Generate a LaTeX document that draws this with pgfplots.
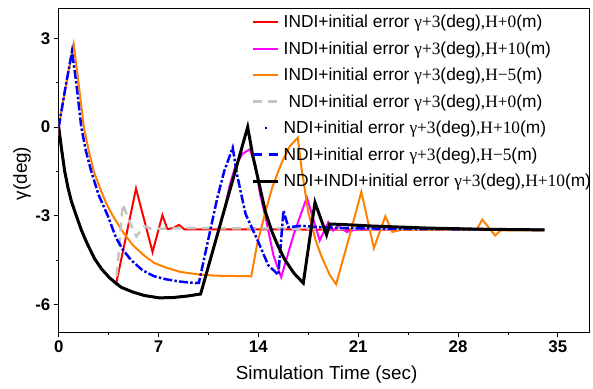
\documentclass[border=0pt]{standalone}
\usepackage{fontspec}
\setmainfont{Liberation Sans}
\newfontfamily\tn{Liberation Serif}
\usepackage{pgfplots}
\pgfplotsset{compat=1.18}
\definecolor{cRed}{RGB}{255,0,0}
\definecolor{cMag}{RGB}{255,0,255}
\definecolor{cOra}{RGB}{255,128,0}
\definecolor{cGray}{RGB}{196,196,196}
\definecolor{cBlue}{RGB}{0,0,255}
\definecolor{cNavy}{RGB}{0,0,200}
\pgfplotsset{myleg/.style={legend image code/.code={\draw[#1] (0bp,0bp) -- (25bp,0bp);}}}
\begin{document}
\begin{tikzpicture}
\begin{axis}[
  scale only axis, width=533bp, height=326bp,
  xmin=0, xmax=37.2, ymin=-6.95, ymax=4.03,
  xtick={0,7,14,21,28,35}, ytick={-6,-3,0,3},
  minor x tick num=1, minor y tick num=1,
  tick align=outside, xtick pos=left, ytick pos=left,
  major tick length=5bp, minor tick length=3bp,
  tick style={black, line width=0.8bp},
  axis line style={line width=0.8bp},
  /pgf/number format/assume math mode=true,
  ticklabel style={font=\bfseries\fontsize{17}{17}\selectfont},
  xlabel={Simulation Time (sec)}, ylabel={γ(deg)},
  every axis x label/.style={at={(axis description cs:0.505,-0.129)}, anchor=center, font=\fontsize{19}{19}\selectfont},
  every axis y label/.style={at={(axis description cs:-0.0694,0.49)}, rotate=90, anchor=center, font=\fontsize{19}{19}\selectfont},
  legend cell align=left,
  legend style={at={(1,1)}, anchor=north east, draw=none, fill=none,
    font=\fontsize{17.5}{17.5}\selectfont, row sep=8.5bp, inner sep=0pt, yshift=-5bp, xshift=4bp,
    /tikz/every odd column/.append style={column sep=2bp}},
  myleg,
]
% INDI H+0
\addplot[color=cRed, line width=2bp] coordinates {
(0,0) (0.2,-0.75) (0.42,-1.5) (0.65,-2.05) (0.88,-2.5) (1.23,-3.0) (1.6,-3.5) (2.0,-3.95) (2.51,-4.45) (3.0,-4.8) (3.56,-5.1) (4.02,-5.32)
(5.42,-2.08) (6.58,-4.23) (7.27,-2.98) (7.62,-3.45) (8.0,-3.42) (8.44,-3.31) (8.8,-3.46) (10,-3.46) (20,-3.47) (34,-3.48)};
\addlegendentry{INDI+initial error {\tn γ+3}(deg){\tn ,H+0}(m)}
% INDI H+10
\addplot[color=cMag, line width=2bp] coordinates {
(0,0) (0.2,-0.75) (0.42,-1.5) (0.65,-2.05) (0.88,-2.5) (1.23,-3.0) (1.6,-3.5) (2.0,-3.95) (2.51,-4.45) (3.0,-4.8) (3.56,-5.1) (4.37,-5.42) (5.18,-5.58) (6.0,-5.7) (7.04,-5.78) (8.0,-5.77) (9.0,-5.72) (9.95,-5.65)
(11.6,-2.83) (12.0,-1.95) (12.4,-1.3) (12.9,-0.9) (13.4,-0.75) (13.8,-1.3) (14.13,-2.3) (14.48,-3.0) (15.06,-4.35) (15.6,-5.08) (16.5,-3.6) (17.4,-2.38) (18.3,-3.84) (18.9,-3.22) (19.25,-3.5) (19.6,-3.36) (20.2,-3.55) (21,-3.45) (34,-3.48)};
\addlegendentry{INDI+initial error {\tn γ+3}(deg){\tn ,H+10}(m)}
% INDI H-5
\addplot[color=cOra, line width=2bp] coordinates {
(0,0) (0.5,1.4) (1.05,2.8) (1.39,1.5) (1.76,0) (2.1,-0.8) (2.46,-1.5) (3.0,-2.2) (3.35,-2.6) (3.79,-3.0) (4.5,-3.55) (5.2,-4.0) (6.0,-4.35) (6.7,-4.6) (7.5,-4.75) (8.5,-4.9) (9.83,-4.99) (11,-5.03) (13.5,-5.05)
(13.9,-4.0) (14.48,-2.89) (15.0,-2.0) (15.64,-1.2) (16.2,-0.65) (16.76,-0.36) (17.04,-1.43) (17.5,-2.89) (18.0,-3.8) (18.4,-4.35) (19.0,-5.0) (19.45,-5.32) (20.35,-3.76) (21.22,-2.19) (22.1,-4.1) (22.9,-3.02) (23.4,-3.55) (24,-3.48) (29.3,-3.48) (29.7,-3.13) (30.6,-3.67) (31.0,-3.5) (34,-3.5)};
\addlegendentry{INDI+initial error {\tn γ+3}(deg){\tn ,H−5}(m)}
% NDI H+0
\addplot[color=cGray, line width=2.5bp, dash pattern=on 9bp off 6bp] coordinates {
(0,0) (0.2,-0.75) (0.42,-1.5) (0.65,-2.05) (0.88,-2.5) (1.23,-3.0) (1.6,-3.5) (2.0,-3.95) (2.51,-4.45) (3.0,-4.8) (3.56,-5.1) (4.02,-5.32)
(4.49,-2.6) (5.0,-3.25) (5.45,-3.7) (6.0,-3.35) (6.5,-3.45) (8,-3.42) (20,-3.44) (34,-3.46)};
\addlegendentry{\ NDI+initial error {\tn γ+3}(deg){\tn ,H+0}(m)}
% NDI H+10
\addplot[color=cNavy, line width=2.5bp, dash pattern=on 2.5bp off 13.5bp, dash phase=4.75bp] coordinates {
(0,0) (0.45,1.28) (0.93,2.56) (1.23,1.5) (1.58,0) (1.9,-0.8) (2.28,-1.5) (2.8,-2.3) (3.44,-3.0) (4.02,-3.75) (4.5,-4.15) (5.07,-4.5) (5.88,-4.85) (6.69,-5.05) (7.51,-5.15) (8.5,-5.23) (9.6,-5.28) (9.83,-5.27)
(11.1,-2.44) (11.6,-1.5) (12.2,-0.7) (12.5,-1.6) (13.1,-2.94) (13.9,-3.78) (14.7,-4.68) (15.4,-5.0) (15.76,-2.83) (16.1,-3.39) (17,-3.34) (18,-3.38) (20,-3.42) (25,-3.45) (34,-3.48)};
\addlegendentry{NDI+initial error {\tn γ+3}(deg){\tn ,H+10}(m)}
% NDI H-5
\addplot[color=cBlue, line width=2.5bp, dash pattern=on 9bp off 7bp] coordinates {
(0,0) (0.45,1.28) (0.93,2.56) (1.23,1.5) (1.58,0) (1.9,-0.8) (2.28,-1.5) (2.8,-2.3) (3.44,-3.0) (4.02,-3.75) (4.5,-4.15) (5.07,-4.5) (5.88,-4.85) (6.69,-5.05) (7.51,-5.15) (8.5,-5.23) (9.6,-5.28) (9.83,-5.27)
(11.1,-2.44) (11.6,-1.5) (12.2,-0.7) (12.5,-1.6) (13.1,-2.94) (13.9,-3.78) (14.7,-4.68) (15.4,-5.0) (15.76,-2.83) (16.1,-3.39) (17,-3.34) (18,-3.38) (20,-3.42) (25,-3.45) (34,-3.48)};
\addlegendentry{NDI+initial error {\tn γ+3}(deg){\tn ,H−5}(m)}
% NDI+INDI H+10
\addplot[color=black, line width=3bp] coordinates {
(0,0) (0.2,-0.75) (0.42,-1.5) (0.65,-2.05) (0.88,-2.5) (1.23,-3.0) (1.6,-3.5) (2.0,-3.95) (2.51,-4.45) (3.0,-4.8) (3.56,-5.1) (4.37,-5.42) (5.18,-5.58) (6.0,-5.7) (7.04,-5.78) (8.0,-5.77) (9.0,-5.72) (9.95,-5.65)
(13.25,0.0) (13.6,-0.95) (14.0,-1.8) (14.48,-2.85) (15.0,-3.6) (15.4,-4.05) (15.87,-4.5) (16.5,-4.95) (17.15,-5.28) (17.97,-2.55) (18.45,-3.2) (18.78,-3.65) (19.0,-3.28) (20,-3.3) (22,-3.35) (26,-3.42) (30,-3.46) (34.07,-3.48)};
\addlegendentry{NDI+INDI+initial error {\tn γ+3}(deg){\tn ,H+10}(m)}
\end{axis}
\path ([xshift=-59bp,yshift=-56bp]current axis.south west) rectangle ([xshift=1bp,yshift=8bp]current axis.north east);
\end{tikzpicture}
\end{document}
